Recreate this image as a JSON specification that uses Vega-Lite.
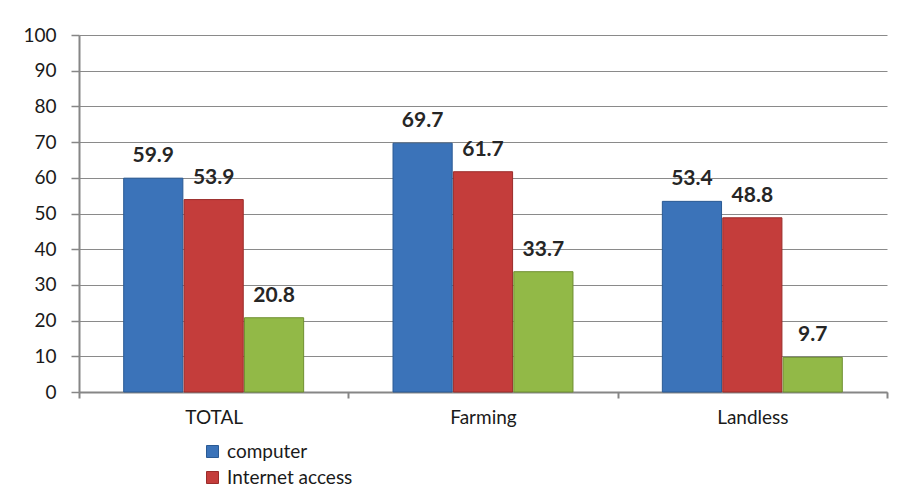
{
  "$schema": "https://vega.github.io/schema/vega-lite/v6.json",
  "width": 808,
  "height": 357,
  "autosize": {"type": "none"},
  "padding": {"left": 79, "top": 35, "right": 10, "bottom": 94},
  "background": "white",
  "data": {
    "values": [
      {"group": "TOTAL", "series": "computer", "value": 59.9},
      {"group": "TOTAL", "series": "Internet access", "value": 53.9},
      {"group": "TOTAL", "series": "mobile phone", "value": 20.8},
      {"group": "Farming", "series": "computer", "value": 69.7},
      {"group": "Farming", "series": "Internet access", "value": 61.7},
      {"group": "Farming", "series": "mobile phone", "value": 33.7},
      {"group": "Landless", "series": "computer", "value": 53.4},
      {"group": "Landless", "series": "Internet access", "value": 48.8},
      {"group": "Landless", "series": "mobile phone", "value": 9.7}
    ]
  },
  "encoding": {
    "x": {
      "field": "group", "type": "nominal", "sort": ["TOTAL", "Farming", "Landless"],
      "scale": {"paddingInner": 0, "paddingOuter": 0},
      "axis": {
        "title": null, "labelAngle": 0, "tickBand": "extent", "tickSize": 6,
        "tickColor": "#868686", "tickWidth": 2, "domainColor": "#868686", "domainWidth": 2,
        "labelFont": "Lato", "labelFontSize": 19, "labelColor": "#1a1a1a", "labelPadding": 10, "grid": false
      }
    },
    "xOffset": {
      "field": "series", "type": "nominal", "sort": ["computer", "Internet access", "mobile phone"],
      "scale": {"paddingInner": 0.02, "paddingOuter": 0.74}
    },
    "y": {
      "field": "value", "type": "quantitative",
      "scale": {"domain": [0, 100], "nice": false},
      "axis": {
        "title": null, "values": [0, 10, 20, 30, 40, 50, 60, 70, 80, 90, 100],
        "tickSize": 8, "tickColor": "#868686", "tickWidth": 1.5, "domainColor": "#868686", "domainWidth": 2,
        "gridColor": "#8a8a8a", "gridWidth": 1, "labelFont": "Lato", "labelFontSize": 19,
        "labelColor": "#1a1a1a", "labelPadding": 15
      }
    }
  },
  "layer": [
    {
      "mark": {"type": "bar", "strokeWidth": 1},
      "encoding": {
        "color": {
          "field": "series", "type": "nominal", "sort": ["computer", "Internet access", "mobile phone"],
          "scale": {"domain": ["computer", "Internet access", "mobile phone"], "range": ["#3b73b9", "#c43d3b", "#92b947"]},
          "legend": {
            "title": null, "orient": "none", "legendX": 124, "legendY": 407, "direction": "vertical",
            "symbolType": "square", "symbolSize": 144, "symbolStrokeWidth": 1, "symbolOpacity": 1,
            "labelFont": "Lato", "labelFontSize": 19, "labelColor": "#1a1a1a", "rowPadding": 6, "labelOffset": 5
          }
        },
        "stroke": {
          "field": "series", "type": "nominal", "legend": null,
          "scale": {"domain": ["computer", "Internet access", "mobile phone"], "range": ["#2a5a94", "#9a2c2a", "#6f8f30"]}
        }
      }
    },
    {
      "mark": {"type": "text", "baseline": "alphabetic", "dy": -16, "font": "Lato", "fontWeight": "bold", "fontSize": 21, "color": "#262626"},
      "encoding": {"text": {"field": "value", "type": "quantitative", "format": ".1f"}}
    }
  ],
  "config": {"view": {"stroke": null}, "axis": {"labelFontWeight": "normal"}}
}
